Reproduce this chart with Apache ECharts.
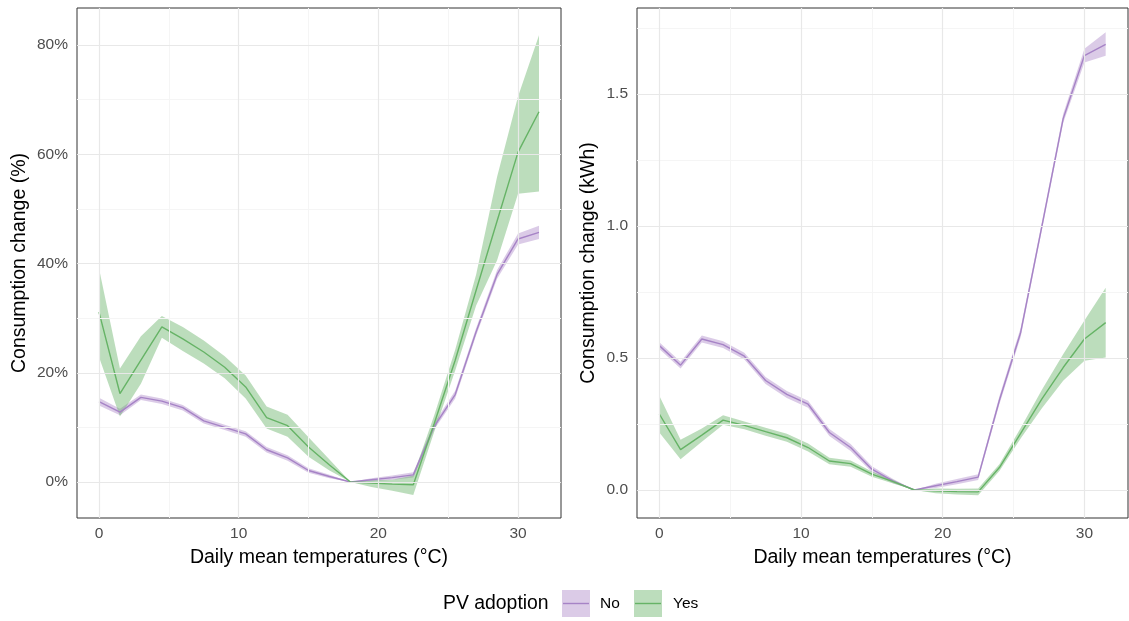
<!DOCTYPE html>
<html>
<head>
<meta charset="utf-8">
<title>Consumption change by temperature</title>
<script src="https://cdn.jsdelivr.net/npm/echarts@6.0.0/dist/echarts.min.js"></script>
</head>
<body style="margin:0;background:#fff">
<div id="container" style="width:1129px;height:621px;"></div>
<script>
// daily mean temperature bins (°C)
var temps = [0, 1.5, 3, 4.5, 6, 7.5, 9, 10.5, 12, 13.5, 15, 16.5, 18, 19.5, 21, 22.5, 24, 25.5, 27, 28.5, 30, 31.5];

// left panel: change in %
var pctNo   = [14.7, 12.8, 15.5, 14.8, 13.6, 11.2, 10.0, 8.8, 5.9, 4.4, 2.1, 1.0, 0, 0.4, 0.8, 1.3, 10.2, 16.0, 27.5, 38.0, 44.5, 45.7];
var pctNoLo = [14.0, 12.2, 15.0, 14.3, 13.1, 10.7, 9.5, 8.3, 5.4, 3.9, 1.7, 0.7, 0, 0.1, 0.4, 0.8, 9.6, 15.3, 26.8, 37.2, 43.5, 44.5];
var pctNoHi = [15.4, 13.4, 16.0, 15.3, 14.1, 11.7, 10.5, 9.3, 6.4, 4.9, 2.5, 1.3, 0, 0.7, 1.2, 1.8, 10.8, 16.7, 28.2, 38.8, 45.5, 46.9];
var pctYes   = [31.1, 16.2, 22.3, 28.4, 26.2, 23.8, 21.0, 17.4, 11.8, 10.3, 6.4, 3.1, 0, -0.2, -0.4, -0.5, 10.7, 22.3, 35.1, 47.8, 60.4, 67.8];
var pctYesLo = [22.9, 12.0, 18.0, 26.4, 24.0, 21.7, 19.0, 15.3, 9.8, 8.3, 4.6, 2.1, 0, -0.9, -1.6, -2.4, 9.2, 20.4, 32.3, 40.6, 52.8, 53.2];
var pctYesHi = [39.1, 20.8, 26.7, 30.4, 28.4, 25.9, 23.0, 19.5, 13.8, 12.3, 8.2, 4.1, 0, 0.3, 0.4, 1.2, 12.2, 24.2, 38.0, 55.9, 70.6, 81.8];

// right panel: change in kWh
var kwhNo   = [0.547, 0.473, 0.572, 0.551, 0.507, 0.415, 0.362, 0.325, 0.218, 0.161, 0.079, 0.034, 0, 0.016, 0.032, 0.049, 0.34, 0.597, 1.0, 1.407, 1.646, 1.688];
var kwhNoLo = [0.534, 0.460, 0.559, 0.538, 0.494, 0.402, 0.349, 0.312, 0.205, 0.148, 0.068, 0.026, 0, 0.008, 0.022, 0.038, 0.325, 0.580, 0.985, 1.390, 1.620, 1.645];
var kwhNoHi = [0.560, 0.486, 0.585, 0.564, 0.520, 0.428, 0.375, 0.338, 0.231, 0.174, 0.090, 0.042, 0, 0.024, 0.042, 0.060, 0.355, 0.614, 1.015, 1.424, 1.672, 1.734];
var kwhYes   = [0.288, 0.153, 0.208, 0.265, 0.245, 0.221, 0.198, 0.161, 0.110, 0.100, 0.060, 0.032, 0, -0.003, -0.006, -0.007, 0.085, 0.215, 0.345, 0.464, 0.572, 0.634];
var kwhYesLo = [0.218, 0.117, 0.183, 0.247, 0.230, 0.206, 0.183, 0.146, 0.098, 0.088, 0.050, 0.025, 0, -0.012, -0.017, -0.020, 0.072, 0.195, 0.310, 0.414, 0.490, 0.502];
var kwhYesHi = [0.357, 0.190, 0.233, 0.283, 0.260, 0.236, 0.213, 0.176, 0.122, 0.112, 0.070, 0.039, 0, 0.006, 0.005, 0.006, 0.098, 0.235, 0.380, 0.514, 0.642, 0.766];

// axis ticks
var xMajor = [0, 10, 20, 30];
var xMinor = [5, 15, 25];
var pctMajor = [0, 20, 40, 60, 80];
var pctMinor = [10, 30, 50, 70];
var kwhMajor = [0, 0.5, 1.0, 1.5];
var kwhMinor = [0.25, 0.75, 1.25, 1.75];

var FONT = 'Liberation Sans, Arial, sans-serif';
var colNo = '#a683c6', colYes = '#66b366';
var fillNo = 'rgba(165,125,195,0.4)', fillYes = 'rgba(95,175,95,0.42)';

function pairs(xs, ys) {
	var out = [];
	for (var i = 0; i < xs.length; i++) out.push([xs[i], ys[i]]);
	return out;
}
function triples(xs, lo, hi) {
	var out = [];
	for (var i = 0; i < xs.length; i++) out.push([xs[i], lo[i], hi[i]]);
	return out;
}
function gridLines(xa, xb, ya, yb) {
	var d = [];
	xb.forEach(function (v) { d.push({ xAxis: v, lineStyle: { color: '#f5f5f5', width: 1, type: 'solid' } }); });
	yb.forEach(function (v) { d.push({ yAxis: v, lineStyle: { color: '#f5f5f5', width: 1, type: 'solid' } }); });
	xa.forEach(function (v) { d.push({ xAxis: v, lineStyle: { color: '#e8e8e8', width: 1.2, type: 'solid' } }); });
	ya.forEach(function (v) { d.push({ yAxis: v, lineStyle: { color: '#e8e8e8', width: 1.2, type: 'solid' } }); });
	return { silent: true, symbol: ['none', 'none'], label: { show: false }, animation: false, data: d };
}
// grid lines live on an invisible helper series drawn first
function gridSeries(idx, ys, marks) {
	return {
		type: 'line', xAxisIndex: idx, yAxisIndex: idx, data: pairs(temps, ys), z: 1,
		showSymbol: false, symbol: 'none', lineStyle: { opacity: 0 }, silent: true, markLine: marks
	};
}
// confidence ribbon: polygon through the upper bounds and back along the lower bounds
function band(idx, lo, hi, fill) {
	return {
		type: 'custom', xAxisIndex: idx, yAxisIndex: idx, z: 2, silent: true,
		data: triples(temps, lo, hi),
		encode: { x: 0, y: [1, 2] },
		renderItem: function (params, api) {
			if (params.dataIndex !== 0) return null;
			var pts = [];
			for (var i = 0; i < temps.length; i++) pts.push(api.coord([temps[i], hi[i]]));
			for (var j = temps.length - 1; j >= 0; j--) pts.push(api.coord([temps[j], lo[j]]));
			return { type: 'polygon', shape: { points: pts }, style: { fill: fill, stroke: null } };
		}
	};
}
function line(idx, ys, col) {
	return {
		type: 'line', xAxisIndex: idx, yAxisIndex: idx, data: pairs(temps, ys),
		showSymbol: false, symbol: 'none', lineStyle: { color: col, width: 1.4 }, z: 3, silent: true
	};
}
function xAxis(idx) {
	return {
		type: 'value', gridIndex: idx, min: -1.575, max: 33.075,
		splitLine: { show: false }, axisLine: { show: false },
		axisTick: { show: true, length: 5, lineStyle: { color: '#333' }, customValues: xMajor },
		axisLabel: { color: '#4d4d4d', fontSize: 15.5, fontFamily: FONT, margin: 8, customValues: xMajor },
		name: 'Daily mean temperatures (°C)', nameLocation: 'middle', nameGap: 30,
		nameTextStyle: { color: '#000', fontSize: 19.5, fontFamily: FONT }
	};
}
function yAxis(idx, min, max, ticks, fmt, name, gap) {
	return {
		type: 'value', gridIndex: idx, min: min, max: max,
		splitLine: { show: false }, axisLine: { show: false },
		axisTick: { show: true, length: 5, lineStyle: { color: '#333' }, customValues: ticks },
		axisLabel: { color: '#4d4d4d', fontSize: 15.5, fontFamily: FONT, margin: 9, customValues: ticks, formatter: fmt },
		name: name, nameLocation: 'middle', nameGap: gap, nameRotate: 90,
		nameTextStyle: { color: '#000', fontSize: 19.5, fontFamily: FONT }
	};
}

var series = [
	gridSeries(0, pctNo, gridLines(xMajor, xMinor, pctMajor, pctMinor)),
	band(0, pctNoLo, pctNoHi, fillNo),
	band(0, pctYesLo, pctYesHi, fillYes),
	line(0, pctNo, colNo),
	line(0, pctYes, colYes),
	gridSeries(1, kwhNo, gridLines(xMajor, xMinor, kwhMajor, kwhMinor)),
	band(1, kwhNoLo, kwhNoHi, fillNo),
	band(1, kwhYesLo, kwhYesHi, fillYes),
	line(1, kwhNo, colNo),
	line(1, kwhYes, colYes)
];

var myChart = echarts.init(document.getElementById('container'));
var option = {
	animation: false,
	backgroundColor: '#fff',
	grid: [
		{ left: 77, top: 8, width: 484, height: 510, show: true, borderColor: '#333', borderWidth: 1, backgroundColor: 'transparent' },
		{ left: 637, top: 8, width: 491, height: 510, show: true, borderColor: '#333', borderWidth: 1, backgroundColor: 'transparent' }
	],
	xAxis: [xAxis(0), xAxis(1)],
	yAxis: [
		yAxis(0, -6.6, 86.8, pctMajor, function (v) { return v + '%'; }, 'Consumption change (%)', 47),
		yAxis(1, -0.106, 1.826, kwhMajor, function (v) { return v.toFixed(1); }, 'Consumption change (kWh)', 38)
	],
	series: series,
	graphic: [
		{ type: 'text', left: 443, top: 594, style: { text: 'PV adoption', fill: '#000', font: '19.4px ' + FONT } },
		{ type: 'rect', shape: { x: 562, y: 590, width: 28, height: 27 }, style: { fill: fillNo } },
		{ type: 'line', shape: { x1: 563, y1: 603.5, x2: 589, y2: 603.5 }, style: { stroke: colNo, lineWidth: 1.4 } },
		{ type: 'text', left: 600, top: 596, style: { text: 'No', fill: '#000', font: '15.5px ' + FONT } },
		{ type: 'rect', shape: { x: 634, y: 590, width: 28, height: 27 }, style: { fill: fillYes } },
		{ type: 'line', shape: { x1: 635, y1: 603.5, x2: 661, y2: 603.5 }, style: { stroke: colYes, lineWidth: 1.4 } },
		{ type: 'text', left: 673, top: 596, style: { text: 'Yes', fill: '#000', font: '15.5px ' + FONT } }
	]
};
myChart.setOption(option);
window.addEventListener('resize', myChart.resize);
</script>
</body>
</html>
